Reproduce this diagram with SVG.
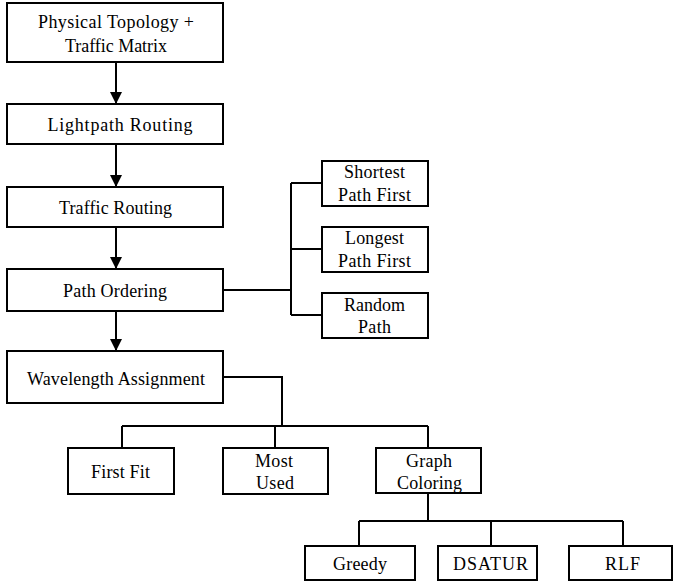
<svg xmlns="http://www.w3.org/2000/svg" width="673" height="581" viewBox="0 0 673 581">
<style>
.box{fill:#fff;stroke:#000;stroke-width:2}
.ln{fill:none;stroke:#000;stroke-width:2}
text{font-family:'Liberation Serif','DejaVu Serif',serif;font-size:18px;fill:#000;text-anchor:middle}
</style>
<defs>
<marker id="ah" markerUnits="userSpaceOnUse" markerWidth="12" markerHeight="12" viewBox="0 0 12 12" refX="12" refY="6" orient="auto">
<path d="M0,0 L12,6 L0,12 Z" fill="#000"/>
</marker>
</defs>
<rect width="673" height="581" fill="#fff"/>
<g id="connectors">
<line class="ln" x1="116" y1="62" x2="116" y2="104" marker-end="url(#ah)"/>
<line class="ln" x1="116" y1="144" x2="116" y2="187" marker-end="url(#ah)"/>
<line class="ln" x1="116" y1="227" x2="116" y2="269" marker-end="url(#ah)"/>
<line class="ln" x1="116" y1="311" x2="116" y2="351" marker-end="url(#ah)"/>
<path class="ln" d="M223,290 H291 M291,183 V315 M291,183 H322 M291,249 H322 M291,315 H322"/>
<path class="ln" d="M223,377 H282 V426 M122,426 H428 M122,426 V448 M275,426 V448 M428,426 V448"/>
<path class="ln" d="M428,493 V521 M359,521 H623 M359,521 V546 M491,521 V546 M623,521 V546"/>
</g>
<g id="n-topology"><rect class="box" x="7" y="3" width="216" height="59"/><text x="116" y="28" textLength="156">Physical Topology +</text><text x="116" y="52" textLength="102">Traffic Matrix</text></g>
<g id="n-lightpath"><rect class="box" x="7" y="104" width="216" height="40"/><text x="120" y="131" textLength="145">Lightpath  Routing</text></g>
<g id="n-traffic"><rect class="box" x="7" y="187" width="216" height="40"/><text x="115.5" y="214" textLength="113">Traffic Routing</text></g>
<g id="n-pathorder"><rect class="box" x="7" y="269" width="216" height="42"/><text x="115" y="297" textLength="104">Path Ordering</text></g>
<g id="n-wavelength"><rect class="box" x="7" y="351" width="216" height="52"/><text x="116" y="385" textLength="178">Wavelength  Assignment</text></g>
<g id="n-shortest"><rect class="box" x="322" y="161" width="106" height="45"/><text x="374.5" y="178" textLength="61">Shortest</text><text x="374.5" y="201" textLength="73">Path First</text></g>
<g id="n-longest"><rect class="box" x="322" y="227" width="106" height="45"/><text x="374.5" y="244" textLength="59">Longest</text><text x="374.5" y="267" textLength="73">Path First</text></g>
<g id="n-random"><rect class="box" x="322" y="293" width="106" height="45"/><text x="374.5" y="311" textLength="61">Random</text><text x="374.5" y="333" textLength="33">Path</text></g>
<g id="n-firstfit"><rect class="box" x="68" y="448" width="106" height="46"/><text x="120.5" y="478" textLength="59">First Fit</text></g>
<g id="n-mostused"><rect class="box" x="223" y="448" width="105" height="46"/><text x="274" y="467" textLength="38">Most</text><text x="275" y="489" textLength="38">Used</text></g>
<g id="n-graph"><rect class="box" x="376" y="448" width="105" height="45"/><text x="429" y="467" textLength="46">Graph</text><text x="429.5" y="489" textLength="65">Coloring</text></g>
<g id="n-greedy"><rect class="box" x="305" y="546" width="110" height="34"/><text x="360" y="570" textLength="54">Greedy</text></g>
<g id="n-dsatur"><rect class="box" x="438" y="546" width="99" height="34"/><text x="490.5" y="570" textLength="75">DSATUR</text></g>
<g id="n-rlf"><rect class="box" x="569" y="546" width="103" height="34"/><text x="622.5" y="570" textLength="35">RLF</text></g>
</svg>
